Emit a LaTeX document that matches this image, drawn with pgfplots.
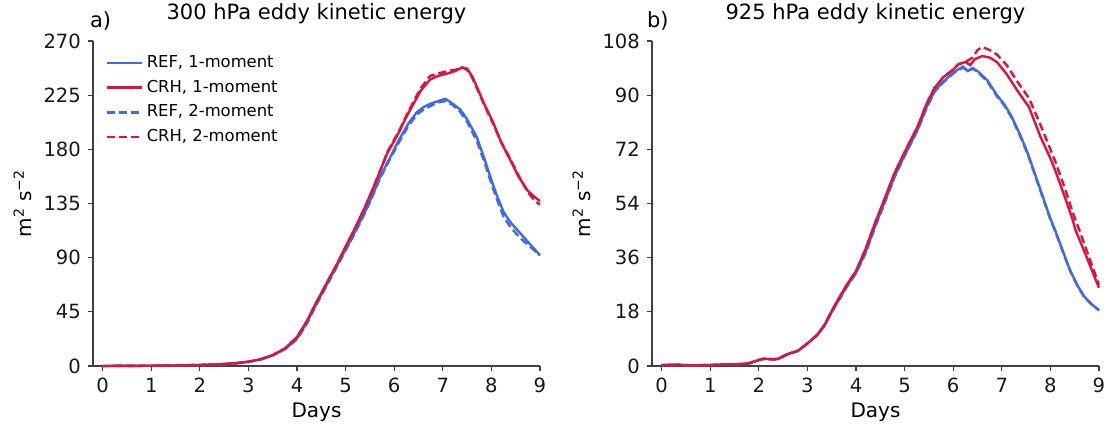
\documentclass[border=0pt]{standalone}
\usepackage{fontspec}
\setmainfont{DejaVu Sans}
\usepackage{pgfplots}
\pgfplotsset{compat=1.18}
\definecolor{refblue}{RGB}{65,105,225}
\definecolor{crhred}{RGB}{220,20,60}
\pgfplotsset{
  mystyle/.style={
    width=223.5pt, height=162.5pt, scale only axis,
    axis lines*=left, clip=false,
    axis line style={black!75, line width=0.6pt},
    xmin=-0.2, xmax=9, ymin=0,
    xtick={0,...,9},
    tick align=outside, major tick length=2.5pt,
    tick style={black!75, line width=0.6pt},
    ticklabel style={font=\fontsize{9.8}{11}\selectfont, text=black!90},
    /pgf/number format/assume math mode=true,
    xlabel=Days,
    ylabel={m\textsuperscript{2} s\textsuperscript{−2}},
    label style={font=\fontsize{10}{12}\selectfont},
    xlabel style={at={(axis description cs:0.5,0)}, anchor=center, yshift=-23pt},
    ylabel style={at={(axis description cs:-0.158,0.5)}, anchor=center},
    title style={font=\fontsize{10.5}{12}\selectfont, at={(axis description cs:0.5,1)}, anchor=base, yshift=4.5pt},
    legend image code/.code={\draw[##1] (0pt,0pt) -- (17.5pt,0pt);},
    every axis plot/.append style={line width=1.2pt},
  },
  refone/.style={refblue, solid},
  crhone/.style={crhred, solid},
  reftwo/.style={refblue, dash pattern=on 4pt off 2pt},
  crhtwo/.style={crhred, dash pattern=on 4pt off 2pt},
}
\begin{document}
\begin{tikzpicture}
\useasboundingbox (-46.5pt,-30pt) rectangle (506pt,183pt);
\begin{axis}[mystyle, ymax=270, ytick={0,45,...,270},
  title={300 hPa eddy kinetic energy},
  legend style={at={(axis description cs:0,1)}, anchor=north west, xshift=3pt, yshift=-3pt,
    draw=none, fill=none, font=\fontsize{8.2}{9.5}\selectfont, row sep=0.8pt,
    nodes={inner xsep=2pt}},
  legend cell align=left]
\addplot[refone] coordinates {
(0,0) (0.5,0.1) (1,0.2) (1.5,0.4) (2,0.8) (2.5,1.6) (2.75,2.3) (3,3.5) (3.25,5.5) (3.5,9) (3.75,14) (4,23) (4.2,36) (4.4,52) (4.6,67) (4.8,82) (5,97) (5.2,112) (5.36,125) (5.5,137) (5.71,157) (5.9,172) (6.1,188) (6.3,202) (6.47,211) (6.6,215) (6.75,218) (6.9,220) (7.05,222) (7.2,218) (7.36,213) (7.5,205) (7.7,190) (7.85,173) (7.98,157) (8.1,143) (8.25,128) (8.4,119) (8.6,110) (8.8,101) (9,92)};
\addlegendentry{REF, 1-moment}
\addplot[crhone] coordinates {
(0,0) (0.5,0.1) (1,0.2) (1.5,0.4) (2,0.8) (2.5,1.6) (2.75,2.3) (3,3.5) (3.25,5.5) (3.5,9) (3.75,14.5) (4,24) (4.2,37) (4.4,53) (4.6,68) (4.8,83) (5,99) (5.2,115) (5.4,132) (5.6,151) (5.75,166) (5.86,177) (6.0,187) (6.12,196) (6.25,207) (6.4,218) (6.55,229) (6.74,238) (6.9,241) (7.1,243) (7.25,245) (7.4,248) (7.5,247) (7.6,241) (7.7,232) (7.85,218) (8.04,202) (8.2,186) (8.39,171) (8.55,158) (8.74,146) (8.9,140) (9,137)};
\addlegendentry{CRH, 1-moment}
\addplot[reftwo] coordinates {
(0,0) (0.5,0.1) (1,0.2) (1.5,0.4) (2,0.8) (2.5,1.6) (2.75,2.3) (3,3.5) (3.25,5.5) (3.5,9) (3.75,14) (4,22) (4.2,35) (4.4,51) (4.6,66) (4.8,81) (5,96) (5.2,111) (5.36,124) (5.5,136) (5.71,156) (5.9,171) (6.1,186) (6.3,200) (6.47,209) (6.6,213) (6.75,216) (6.9,219) (7.05,220) (7.2,217) (7.36,211) (7.5,203) (7.7,187) (7.85,170) (7.98,154) (8.1,140) (8.25,124) (8.4,115) (8.6,106) (8.8,99) (9,92)};
\addlegendentry{REF, 2-moment}
\addplot[crhtwo] coordinates {
(0,0) (0.5,0.1) (1,0.2) (1.5,0.4) (2,0.8) (2.5,1.6) (2.75,2.3) (3,3.5) (3.25,5.5) (3.5,9) (3.75,14.5) (4,24) (4.2,37) (4.4,53) (4.6,68) (4.8,83) (5,99) (5.2,115) (5.4,132) (5.6,151) (5.75,166) (5.86,178) (6.0,188) (6.12,197) (6.25,208) (6.4,220) (6.55,231) (6.74,241) (6.9,243) (7.1,245) (7.25,246) (7.4,248) (7.5,246) (7.6,240) (7.7,231) (7.85,217) (8.04,201) (8.2,186) (8.39,172) (8.55,159) (8.74,145) (8.9,137) (9,134)};
\addlegendentry{CRH, 2-moment}
\node[anchor=base west, font=\fontsize{10.5}{12}\selectfont] at (rel axis cs:0,1) [xshift=-5pt, yshift=6.5pt] {a)};
\end{axis}
\begin{axis}[mystyle, at={(279.5pt,0pt)}, ymax=108, ytick={0,18,...,108},
  title={925 hPa eddy kinetic energy}]
\addplot[refone] coordinates {
(0,0.3) (0.3,0.4) (0.6,0.2) (1,0.3) (1.3,0.5) (1.6,0.6) (1.8,0.9) (2,2.0) (2.1,2.4) (2.3,2.2) (2.4,2.4) (2.6,4.0) (2.8,5.0) (3,7.5) (3.2,10.3) (3.35,13.5) (3.5,18) (3.7,23.5) (3.85,27.5) (4,31) (4.2,38) (4.38,46) (4.6,55) (4.79,63) (5,70) (5.14,74.5) (5.28,79) (5.45,86) (5.62,91.5) (5.8,94.5) (6.0,97.5) (6.11,98.6) (6.2,99.5) (6.3,98) (6.4,99) (6.5,98) (6.7,95) (6.9,90) (7.05,87) (7.2,83) (7.4,76) (7.55,70) (7.7,63) (7.85,56) (8.0,49) (8.1,45) (8.25,38.5) (8.4,32) (8.55,27) (8.7,23) (8.85,20.5) (9,18.6)};
\addplot[crhone] coordinates {
(0,0.3) (0.3,0.4) (0.6,0.2) (1,0.3) (1.3,0.5) (1.6,0.6) (1.8,0.9) (2,2.0) (2.1,2.4) (2.3,2.2) (2.4,2.4) (2.6,4.0) (2.8,5.0) (3,7.5) (3.2,10.3) (3.35,13.5) (3.5,18.3) (3.7,24) (3.85,28) (4,31.5) (4.2,39) (4.38,47) (4.6,56) (4.79,64) (5,71) (5.14,75.5) (5.28,80) (5.45,87) (5.62,92.5) (5.8,96) (6.0,98.5) (6.11,100.3) (6.25,101) (6.35,100) (6.45,102) (6.6,103) (6.75,102.5) (6.9,101) (7.1,97) (7.3,92) (7.56,86) (7.8,76) (8.0,69) (8.1,65) (8.3,56) (8.46,48.5) (8.52,45) (8.65,40) (8.8,34) (8.9,30) (9,26)};
\addplot[reftwo] coordinates {
(0,0.3) (0.3,0.4) (0.6,0.2) (1,0.3) (1.3,0.5) (1.6,0.6) (1.8,0.9) (2,2.0) (2.1,2.4) (2.3,2.2) (2.4,2.4) (2.6,4.0) (2.8,5.0) (3,7.5) (3.2,10.3) (3.35,13.5) (3.5,18) (3.7,23.3) (3.85,27.3) (4,30.8) (4.2,37.6) (4.38,45.6) (4.6,54.6) (4.79,62.6) (5,69.8) (5.14,74.3) (5.28,78.8) (5.45,85.6) (5.62,91.2) (5.8,94.3) (6.0,97.2) (6.11,98.3) (6.2,99.2) (6.3,98) (6.4,98.8) (6.5,97.8) (6.7,94.6) (6.9,89.6) (7.05,86.6) (7.2,82.6) (7.4,75.6) (7.55,69.6) (7.7,62.6) (7.85,55.6) (8.0,48.7) (8.1,44.7) (8.25,38.2) (8.4,31.8) (8.55,26.8) (8.7,22.8) (8.85,20.4) (9,18.5)};
\addplot[crhtwo] coordinates {
(0,0.3) (0.3,0.4) (0.6,0.2) (1,0.3) (1.3,0.5) (1.6,0.6) (1.8,0.9) (2,2.0) (2.1,2.4) (2.3,2.2) (2.4,2.4) (2.6,4.0) (2.8,5.0) (3,7.5) (3.2,10.3) (3.35,13.5) (3.5,18.3) (3.7,24) (3.85,28) (4,31.5) (4.2,39) (4.38,47) (4.6,56) (4.79,64) (5,71) (5.14,75.5) (5.28,80) (5.45,87) (5.62,92.5) (5.8,96) (6.0,98.5) (6.11,100.3) (6.25,101) (6.4,102.5) (6.5,105) (6.6,106) (6.75,105) (6.9,103.5) (7.1,100) (7.3,95) (7.56,89) (7.8,80) (8.0,72) (8.1,68) (8.3,59) (8.46,51) (8.6,45) (8.8,36) (9,27)};
\node[anchor=base west, font=\fontsize{10.5}{12}\selectfont] at (rel axis cs:0,1) [xshift=-6pt, yshift=6.5pt] {b)};
\end{axis}
\end{tikzpicture}
\end{document}
